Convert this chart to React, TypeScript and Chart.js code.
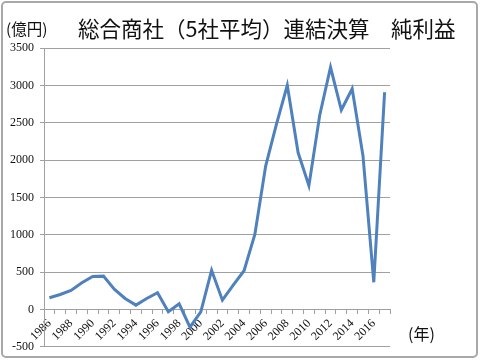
import React, { useEffect, useRef } from "react";
import { Chart, registerables } from "chart.js";

Chart.register(...registerables);

const years: string[] = [
  "1986", "1987", "1988", "1989", "1990", "1991", "1992", "1993", "1994", "1995", "1996",
  "1997", "1998", "1999", "2000", "2001", "2002", "2003", "2004", "2005", "2006", "2007",
  "2008", "2009", "2010", "2011", "2012", "2013", "2014", "2015", "2016", "2017",
];
const netProfit: number[] = [
  157, 200, 254, 357, 442, 446, 272, 147, 58, 147, 223,
  -31, 76, -237, -31, 524, 124, 325, 518, 1004, 1920, 2480,
  3000, 2100, 1657, 2600, 3242, 2670, 2955, 2059, 364, 2908,
];
const titleText = "総合商社（5社平均）連結決算　純利益";
const unitText = "(億円)";
const yearUnitText = "(年)";

const serif = '"Liberation Serif", "Times New Roman", "DejaVu Serif", serif';

const decorPlugin = {
  id: "decor",
  afterDraw(chart: any) {
    const ctx = chart.ctx as CanvasRenderingContext2D;
    ctx.save();
    ctx.strokeStyle = "#a8a8a8";
    ctx.lineWidth = 2;
    ctx.beginPath();
    (ctx as any).roundRect(2, 2, 475, 355, 4);
    ctx.stroke();
    ctx.fillStyle = "#111";
    ctx.textBaseline = "middle";
    ctx.textAlign = "left";
    ctx.font = '15.5px "Noto Sans CJK JP"';
    ctx.fillText(unitText, 6, 29);
    ctx.font = '21.5px "Noto Sans CJK JP"';
    ctx.fillText(titleText, 78, 29);
    ctx.font = '16px "Noto Sans CJK JP"';
    ctx.fillText(yearUnitText, 408, 334);
    ctx.restore();
  },
};

export default function App() {
  const ref = useRef<HTMLCanvasElement | null>(null);
  useEffect(() => {
    let chart: Chart | null = null;
    let cancelled = false;
    const build = () => {
      if (cancelled || !ref.current) return;
      chart = new Chart(ref.current, {
        type: "line",
        data: {
          labels: years,
          datasets: [
            {
              data: netProfit,
              borderColor: "#4f81bd",
              backgroundColor: "#4f81bd",
              borderWidth: 3,
              pointRadius: 0,
              tension: 0,
            },
          ],
        },
        options: {
          responsive: false,
          animation: false,
          devicePixelRatio: 1,
          layout: { padding: { left: 0, top: 48, right: 90, bottom: 11 } },
          plugins: {
            legend: { display: false },
            title: { display: false },
            tooltip: { enabled: false },
          },
          scales: {
            x: {
              position: { y: 0 } as any,
              offset: true,
              grid: {
                drawOnChartArea: false,
                drawTicks: true,
                tickLength: 4,
                offset: true,
                color: "#a0a0a0",
              },
              border: { color: "#a0a0a0" },
              ticks: {
                autoSkip: false,
                minRotation: 45,
                maxRotation: 45,
                padding: 3,
                color: "#111",
                font: { family: serif, size: 12 },
                callback: (_v: any, i: number) => (i % 2 === 0 ? years[i] : ""),
              },
            },
            y: {
              min: -500,
              max: 3500,
              afterFit: (s: any) => {
                s.width = 44;
              },
              grid: { color: "#a0a0a0", tickLength: 4 },
              border: { color: "#a0a0a0" },
              ticks: {
                stepSize: 500,
                padding: 6,
                color: "#111",
                font: { family: serif, size: 12 },
                callback: (v: any) => String(v),
              },
            },
          },
        },
        plugins: [decorPlugin],
      });
    };
    const fontsApi = (document as any).fonts;
    if (fontsApi && fontsApi.load) {
      Promise.all([
        fontsApi.load('12px "Liberation Serif"'),
        fontsApi.load('16px "Noto Sans CJK JP"'),
      ])
        .catch(() => null)
        .then(build);
    } else {
      build();
    }
    return () => {
      cancelled = true;
      if (chart) chart.destroy();
    };
  }, []);
  return (
    <div style={{ position: "fixed", left: 0, top: 0, width: 480, height: 360, background: "#fff" }}>
      <canvas ref={ref} width={480} height={360} style={{ display: "block" }} />
    </div>
  );
}
